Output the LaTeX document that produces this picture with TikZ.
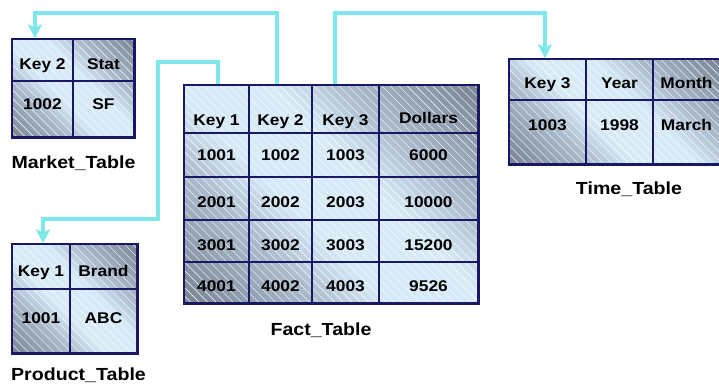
\documentclass[tikz,border=0pt]{standalone}
\usepackage{fontspec}
\setmainfont{Liberation Sans}[FakeStretch=1.12]
\usetikzlibrary{arrows.meta,backgrounds,patterns.meta}

\definecolor{navy}{RGB}{24,24,100}
\definecolor{linkcyan}{RGB}{126,232,232}
\definecolor{celllight}{RGB}{214,234,247}
\definecolor{cellmid}{RGB}{170,186,204}
\definecolor{celldark}{RGB}{120,132,148}

% light band along one diagonal, darker towards the other two corners
\pgfdeclareverticalshading{tableshade}{100bp}{color(0bp)=(celldark); color(15bp)=(celldark);
  color(33bp)=(cellmid); color(43bp)=(celllight); color(57bp)=(celllight);
  color(67bp)=(cellmid); color(85bp)=(celldark); color(100bp)=(celldark)}

\begin{document}
\begin{tikzpicture}[x=1pt,y=-1pt]
\tikzstyle{cell}=[draw=navy,line width=1.2pt,inner sep=0pt,text height=11pt,text depth=0pt,font=\bfseries\fontsize{15.5}{18}\selectfont]
\tikzstyle{frame}=[draw=navy,line width=1.8pt]
\tikzstyle{shadebox}=[shading=tableshade,shading angle=-45]
\tikzstyle{hatch}=[pattern={Lines[angle=-45,distance=6pt,line width=0.4pt]},pattern color=white,fill opacity=0.2]
\tikzstyle{caption}=[font=\bfseries\fontsize{17.5}{20}\selectfont]
\tikzstyle{link}=[draw=linkcyan,line width=4pt]
\tikzstyle{linkarrow}=[link,-{Stealth[length=14pt,width=14pt,inset=3pt]}]

\useasboundingbox (0,0) rectangle (719,383);

% market table
\node[cell,minimum width=61pt,minimum height=42pt] (mk11) at (42.5,60) {\raisebox{-4pt}{Key 2}};
\node[cell,minimum width=61pt,minimum height=42pt] (mk12) at (103.5,60) {\raisebox{-4pt}{Stat}};
\node[cell,minimum width=61pt,minimum height=56pt] (mk21) at (42.5,109) {\raisebox{5pt}{1002}};
\node[cell,minimum width=61pt,minimum height=56pt] (mk22) at (103.5,109) {\raisebox{5pt}{SF}};

% fact table
\node[cell,minimum width=65pt,minimum height=48pt] (ft11) at (216.5,109) {\raisebox{-11pt}{Key 1}};
\node[cell,minimum width=63pt,minimum height=48pt] (ft12) at (280.5,109) {\raisebox{-11pt}{Key 2}};
\node[cell,minimum width=67pt,minimum height=48pt] (ft13) at (345.5,109) {\raisebox{-11pt}{Key 3}};
\node[cell,minimum width=99pt,minimum height=48pt] (ft14) at (428.5,109) {\raisebox{-9pt}{Dollars}};
\node[cell,minimum width=65pt,minimum height=44pt] (ft21) at (216.5,155) {1001};
\node[cell,minimum width=63pt,minimum height=44pt] (ft22) at (280.5,155) {1002};
\node[cell,minimum width=67pt,minimum height=44pt] (ft23) at (345.5,155) {1003};
\node[cell,minimum width=99pt,minimum height=44pt] (ft24) at (428.5,155) {6000};
\node[cell,minimum width=65pt,minimum height=43pt] (ft31) at (216.5,198.5) {\raisebox{-3pt}{2001}};
\node[cell,minimum width=63pt,minimum height=43pt] (ft32) at (280.5,198.5) {\raisebox{-3pt}{2002}};
\node[cell,minimum width=67pt,minimum height=43pt] (ft33) at (345.5,198.5) {\raisebox{-3pt}{2003}};
\node[cell,minimum width=99pt,minimum height=43pt] (ft34) at (428.5,198.5) {\raisebox{-3pt}{10000}};
\node[cell,minimum width=65pt,minimum height=42pt] (ft41) at (216.5,241) {\raisebox{-4pt}{3001}};
\node[cell,minimum width=63pt,minimum height=42pt] (ft42) at (280.5,241) {\raisebox{-4pt}{3002}};
\node[cell,minimum width=67pt,minimum height=42pt] (ft43) at (345.5,241) {\raisebox{-4pt}{3003}};
\node[cell,minimum width=99pt,minimum height=42pt] (ft44) at (428.5,241) {\raisebox{-4pt}{15200}};
\node[cell,minimum width=65pt,minimum height=41pt] (ft51) at (216.5,282.5) {\raisebox{-3pt}{4001}};
\node[cell,minimum width=63pt,minimum height=41pt] (ft52) at (280.5,282.5) {\raisebox{-3pt}{4002}};
\node[cell,minimum width=67pt,minimum height=41pt] (ft53) at (345.5,282.5) {\raisebox{-3pt}{4003}};
\node[cell,minimum width=99pt,minimum height=41pt] (ft54) at (428.5,282.5) {\raisebox{-3pt}{9526}};

% time table
\node[cell,minimum width=77pt,minimum height=41pt] (tm11) at (547.5,79.5) {\raisebox{-3pt}{Key 3}};
\node[cell,minimum width=67pt,minimum height=41pt] (tm12) at (619.5,79.5) {\raisebox{-3pt}{Year}};
\node[cell,minimum width=67pt,minimum height=41pt] (tm13) at (686.5,79.5) {\raisebox{-3pt}{Month}};
\node[cell,minimum width=77pt,minimum height=64pt] (tm21) at (547.5,132) {\raisebox{7pt}{1003}};
\node[cell,minimum width=67pt,minimum height=64pt] (tm22) at (619.5,132) {\raisebox{7pt}{1998}};
\node[cell,minimum width=67pt,minimum height=64pt] (tm23) at (686.5,132) {\raisebox{7pt}{March}};

% product table
\node[cell,minimum width=58pt,minimum height=45pt] (pd11) at (41,266.5) {\raisebox{-4pt}{Key 1}};
\node[cell,minimum width=67pt,minimum height=45pt] (pd12) at (103.5,266.5) {\raisebox{-4pt}{Brand}};
\node[cell,minimum width=58pt,minimum height=64pt] (pd21) at (41,321) {\raisebox{3pt}{1001}};
\node[cell,minimum width=67pt,minimum height=64pt] (pd22) at (103.5,321) {\raisebox{3pt}{ABC}};

% shaded backgrounds with light hatching
\begin{scope}[on background layer]
\shade[shadebox] (mk11.north west) rectangle (mk22.south east);
\fill[hatch] (mk11.north west) rectangle (mk22.south east);
\shade[shadebox] (ft11.north west) rectangle (ft54.south east);
\fill[hatch] (ft11.north west) rectangle (ft54.south east);
\shade[shadebox] (tm11.north west) rectangle (tm23.south east);
\fill[hatch] (tm11.north west) rectangle (tm23.south east);
\shade[shadebox] (pd11.north west) rectangle (pd22.south east);
\fill[hatch] (pd11.north west) rectangle (pd22.south east);
\end{scope}

\draw[frame] (mk11.north west) rectangle (mk22.south east);
\draw[frame] (ft11.north west) rectangle (ft54.south east);
\draw[frame] (tm11.north west) rectangle (tm23.south east);
\draw[frame] (pd11.north west) rectangle (pd22.south east);

\node[caption] (mkname) at (73.5,163) {Market\_Table};
\node[caption] (ftname) at (321,330) {Fact\_Table};
\node[caption] (tmname) at (629,189) {Time\_Table};
\node[caption] (pdname) at (78.5,375) {Product\_Table};

% key links
\draw[linkarrow] ([xshift=-3.5pt]ft12.north) -- ++(0,-71) -| ([xshift=-7.5pt]mk11.north);
\draw[linkarrow] ([xshift=-10.5pt]ft13.north) -- ++(0,-71) -| ([xshift=-2.5pt]tm11.north);
\draw[linkarrow] ([xshift=1.5pt]ft11.north) -- ++(0,-22) -- ++(-60,0) -- ++(0,157) -| ([xshift=2pt]pd11.north);
\end{tikzpicture}
\end{document}
